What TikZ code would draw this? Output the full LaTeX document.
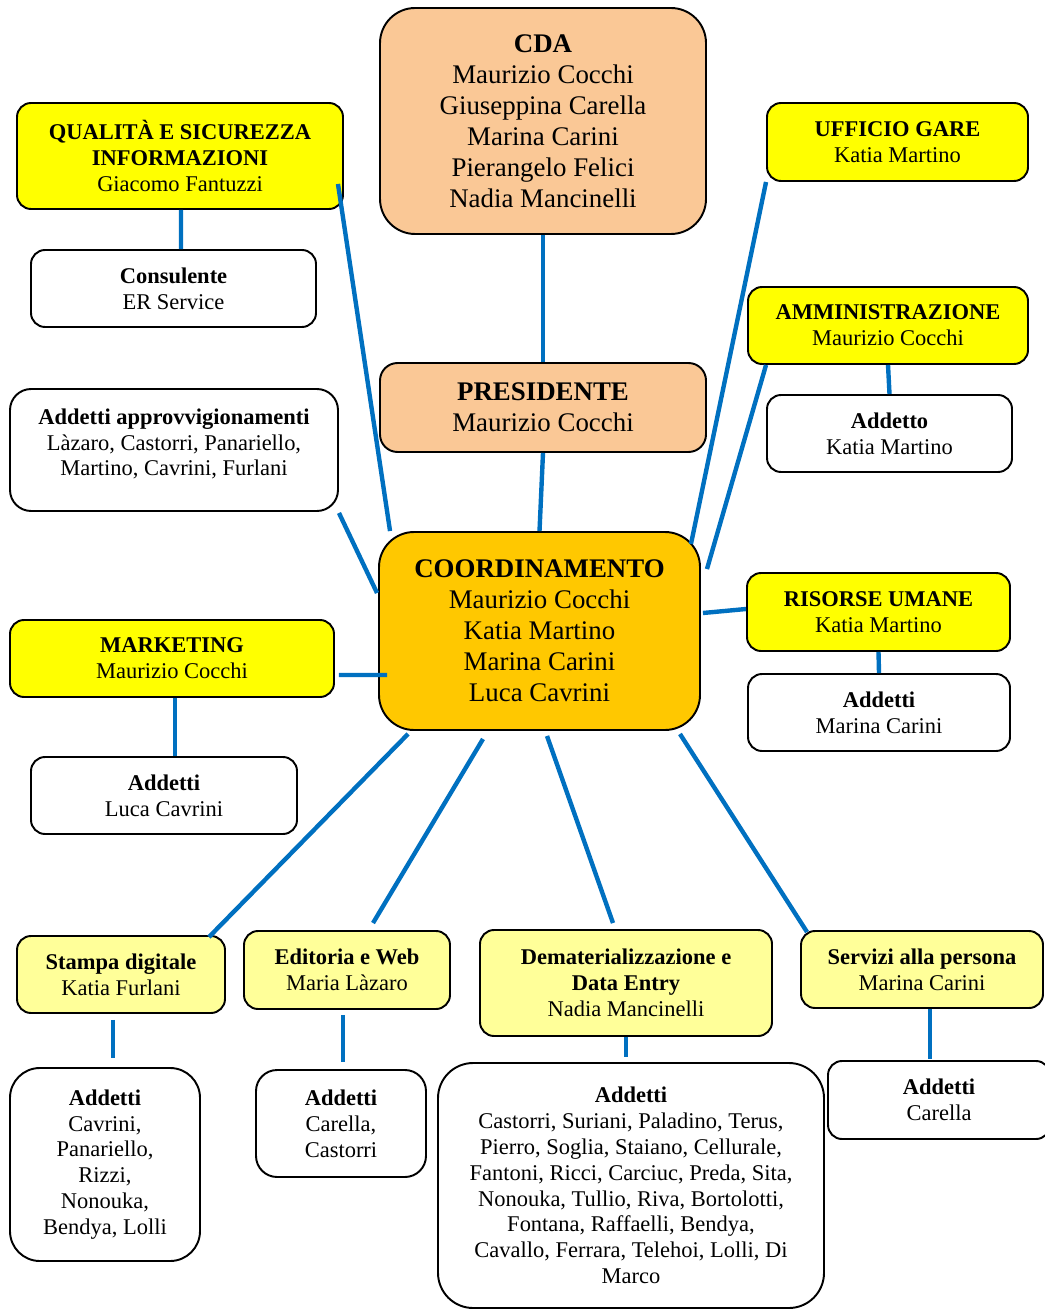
\documentclass[tikz,border=0pt]{standalone}
\usepackage{fontspec}
\setmainfont{Liberation Serif}
\usetikzlibrary{calc}

\definecolor{peach}{RGB}{250,200,150}
\definecolor{gold}{RGB}{255,200,0}
\definecolor{lemon}{RGB}{255,255,0}
\definecolor{pale}{RGB}{255,255,153}
\definecolor{linkblue}{RGB}{0,112,192}

\begin{document}
\begin{tikzpicture}[x=0.02cm, y=-0.02cm,
		box/.style={draw, line width=1.1pt, rounded corners=8pt, align=center, inner sep=1pt,
			font=\fontsize{12.8}{14.7}\selectfont},
		bigbox/.style={box, rounded corners=20pt, fill=peach, font=\fontsize{15.3}{17.6}\selectfont},
		head/.style={box, fill=lemon},
		unit/.style={box, fill=pale},
		staff/.style={box, fill=white},
		link/.style={linkblue, line width=2.5pt}]
		\useasboundingbox (0,0) rectangle (1044,1310);
		
		% Central boxes
		\node[bigbox, minimum width=326*0.02cm, minimum height=226*0.02cm] (cda) at (543,121)
		{\textbf{CDA}\\Maurizio Cocchi\\Giuseppina Carella\\Marina Carini\\Pierangelo Felici\\Nadia Mancinelli};
		\node[bigbox, rounded corners=10pt, minimum width=326*0.02cm, minimum height=89*0.02cm] (pres) at (543,407.5)
		{\textbf{PRESIDENTE}\\Maurizio Cocchi};
		\node[bigbox, fill=gold, minimum width=321*0.02cm, minimum height=198*0.02cm] (coord) at (539.5,631)
		{\textbf{COORDINAMENTO}\\Maurizio Cocchi\\Katia Martino\\Marina Carini\\Luca Cavrini};
		
		% Left side
		\node[head, minimum width=326*0.02cm, minimum height=106*0.02cm] (qual) at (180,156)
		{\textbf{QUALITÀ E SICUREZZA}\\\textbf{INFORMAZIONI}\\Giacomo Fantuzzi};
		\node[staff, minimum width=285*0.02cm, minimum height=77*0.02cm] (cons) at (173.5,288.5)
		{\textbf{Consulente}\\ER Service};
		\node[staff, rounded corners=12pt, minimum width=328*0.02cm, minimum height=122*0.02cm] (appr) at (174,450)
		{\textbf{Addetti approvvigionamenti}\\Làzaro, Castorri, Panariello,\\Martino, Cavrini, Furlani\\[-6pt]~};
		\node[head, minimum width=324*0.02cm, minimum height=77*0.02cm] (mkt) at (172,658.5)
		{\textbf{MARKETING}\\Maurizio Cocchi};
		\node[staff, minimum width=266*0.02cm, minimum height=77*0.02cm] (mktadd) at (164,795.5)
		{\textbf{Addetti}\\Luca Cavrini};
		
		% Right side
		\node[head, minimum width=261*0.02cm, minimum height=78*0.02cm] (gare) at (897.5,142)
		{\textbf{UFFICIO GARE}\\Katia Martino};
		\node[head, minimum width=280*0.02cm, minimum height=77*0.02cm] (amm) at (888,325.5)
		{\textbf{AMMINISTRAZIONE}\\Maurizio Cocchi};
		\node[staff, minimum width=245*0.02cm, minimum height=77*0.02cm] (ammadd) at (889.5,433.5)
		{\textbf{Addetto}\\Katia Martino};
		\node[head, minimum width=263*0.02cm, minimum height=78*0.02cm] (risorse) at (878.5,612)
		{\textbf{RISORSE UMANE}\\Katia Martino};
		\node[staff, minimum width=262*0.02cm, minimum height=77*0.02cm] (risadd) at (879,712.5)
		{\textbf{Addetti}\\Marina Carini};
		
		% Bottom units
		\node[unit, minimum width=208*0.02cm, minimum height=77*0.02cm] (stampa) at (121,974.5)
		{\textbf{Stampa digitale}\\Katia Furlani};
		\node[unit, minimum width=206*0.02cm, minimum height=78*0.02cm] (edit) at (347,970)
		{\textbf{Editoria e Web}\\Maria Làzaro};
		\node[unit, minimum width=292*0.02cm, minimum height=106*0.02cm] (demat) at (626,983)
		{\textbf{Dematerializzazione e}\\\textbf{Data Entry}\\Nadia Mancinelli};
		\node[unit, minimum width=242*0.02cm, minimum height=77*0.02cm] (serv) at (922,969.5)
		{\textbf{Servizi alla persona}\\Marina Carini};
		
		% Bottom staff
		\node[staff, rounded corners=17pt, minimum width=190*0.02cm, minimum height=193*0.02cm] (stadd) at (105,1164.5)
		{\textbf{Addetti}\\Cavrini,\\Panariello,\\Rizzi,\\Nonouka,\\Bendya, Lolli};
		\node[staff, rounded corners=12pt, minimum width=170*0.02cm, minimum height=107*0.02cm] (edadd) at (341,1123.5)
		{\textbf{Addetti}\\Carella,\\Castorri};
		\node[staff, rounded corners=20pt, minimum width=386*0.02cm, minimum height=245*0.02cm] (demadd) at (631,1185.5)
		{\textbf{Addetti}\\Castorri, Suriani, Paladino, Terus,\\Pierro, Soglia, Staiano, Cellurale,\\Fantoni, Ricci, Carciuc, Preda, Sita,\\Nonouka, Tullio, Riva, Bortolotti,\\Fontana, Raffaelli, Bendya,\\Cavallo, Ferrara, Telehoi, Lolli, Di\\Marco};
		\node[staff, minimum width=222*0.02cm, minimum height=78*0.02cm] (servadd) at (939,1100)
		{\textbf{Addetti}\\Carella};
		
		% Straight links
		\foreach \a/\b in {cda/pres, pres/coord, amm/ammadd, risorse/risadd} {
			\draw[link] (\a.south) -- (\b.north);
		}
		\draw[link] ($(qual.south)+(1,0)$) -- ($(cons.north)+(7.5,0)$);
		\draw[link] ($(mkt.south)+(3,0)$) -- ($(mktadd.north)+(11,0)$);
		
		% Links into coordinamento
		\draw[link] ($(qual.south east)+(-6,-26)$) -- ($(coord.north west)+(12,0)$);
		\draw[link] ($(appr.south east)+(0,1)$) -- ($(coord.west)+(-1,-38)$);
		\draw[link] ($(mkt.east)+(4,16.5)$) -- ($(coord.west)+(9,44)$);
		\draw[link] (gare.south west) -- ($(coord.north east)+(-10,13)$);
		\draw[link] ($(amm.south west)+(19,0)$) -- ($(coord.north east)+(6,38)$);
		\draw[link] ($(risorse.west)+(0,-3)$) -- ($(coord.east)+(2,-18)$);
		
		% Links down to the units
		\draw[link] ($(coord.south west)+(30,3)$) -- ($(stampa.north east)+(-17,2)$);
		\draw[link] ($(coord.south)+(-56.5,8)$) -- ($(edit.north)+(26,-7)$);
		\draw[link] ($(coord.south)+(7.5,5)$) -- ($(demat.north)+(-13,-6)$);
		\draw[link] ($(coord.south east)+(-21,3)$) -- ($(serv.north west)+(7,2)$);
		
		% Units to their staff
		\draw[link] ($(stampa.south)+(-8,6)$) -- ($(stadd.north)+(8,-9)$);
		\draw[link] ($(edit.south)+(-4,5)$) -- ($(edadd.north)+(2,-7)$);
		\draw[link] (demat.south) -- ($(demadd.north)+(-5,-5)$);
		\draw[link] ($(serv.south)+(8,0)$) -- ($(servadd.north)+(-9,-1)$);
	\end{tikzpicture}
\end{document}
